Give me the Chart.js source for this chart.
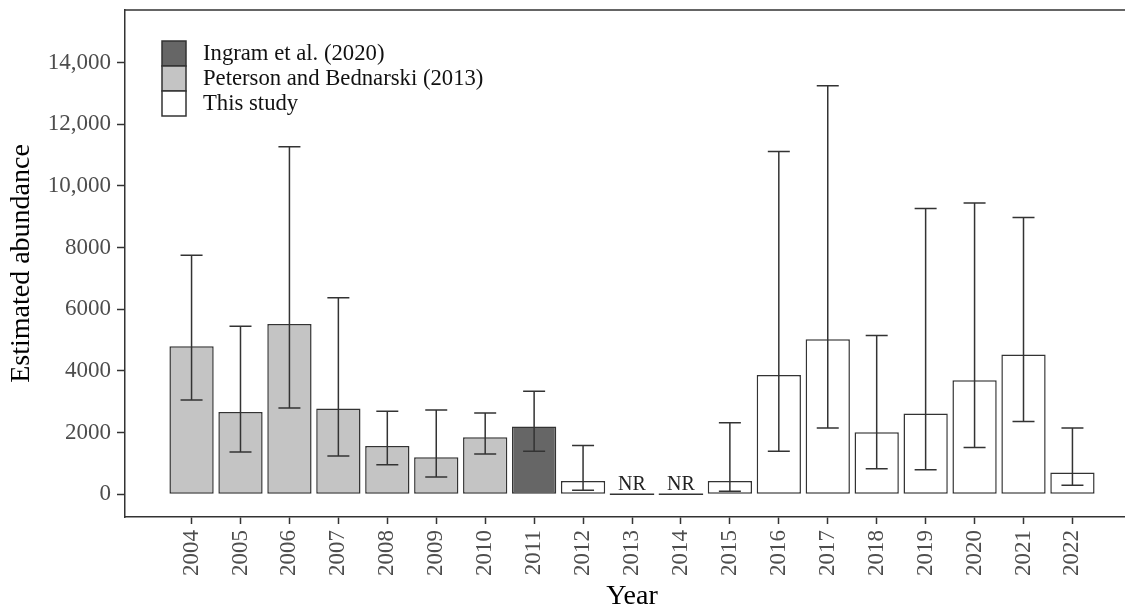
<!DOCTYPE html>
<html>
<head>
<meta charset="utf-8">
<title>Estimated abundance by year</title>
<script src="https://cdn.jsdelivr.net/npm/chart.js@4.4.1/dist/chart.umd.min.js"></script>
<style>
  html, body { margin: 0; padding: 0; background: #fff; overflow: hidden; }
  #wrap { width: 1145px; height: 608px; }
</style>
</head>
<body>
<div id="wrap"><canvas id="abundanceChart" width="1145" height="608"></canvas></div>
<script>
const years = [2004, 2005, 2006, 2007, 2008, 2009, 2010, 2011, 2012, 2013, 2014, 2015, 2016, 2017, 2018, 2019, 2020, 2021, 2022];
const source = ['peterson', 'peterson', 'peterson', 'peterson', 'peterson', 'peterson', 'peterson', 'ingram',
                'study', 'study', 'study', 'study', 'study', 'study', 'study', 'study', 'study', 'study', 'study'];
// null = not reported (NR)
const estimates = [4800, 2670, 5520, 2780, 1570, 1200, 1850, 2200, 430, null, null, 430, 3870, 5030, 2010, 2620, 3700, 4530, 710];
const lower = [3060, 1370, 2800, 1240, 960, 560, 1310, 1400, 130, null, null, 100, 1400, 2150, 830, 800, 1520, 2360, 290];
const upper = [7750, 5450, 11270, 6370, 2690, 2730, 2640, 3340, 1580, null, null, 2320, 11120, 13250, 5150, 9270, 9450, 8980, 2150];

const legendKeys = ['ingram', 'peterson', 'study'];
const legendLabels = ['Ingram et al. (2020)', 'Peterson and Bednarski (2013)', 'This study'];
const yTicks = [0, 2000, 4000, 6000, 8000, 10000, 12000, 14000];
const yTickLabels = ['0', '2000', '4000', '6000', '8000', '10,000', '12,000', '14,000'];

const fills = { ingram: '#666666', peterson: '#c4c4c4', study: '#ffffff' };
const ink = '#333333';
const serif = '"Liberation Serif", "DejaVu Serif", serif';

const errorBars = {
    id: 'errorBars',
    afterDatasetsDraw(chart) {
        const { ctx, scales: { x, y } } = chart;
        ctx.save();
        ctx.strokeStyle = ink;
        ctx.lineWidth = 1.5;
        years.forEach((yr, i) => {
            if (estimates[i] === null) return;
            const px = x.getPixelForValue(yr);
            const yHi = y.getPixelForValue(upper[i]);
            const yLo = y.getPixelForValue(lower[i]);
            ctx.beginPath();
            ctx.moveTo(px, yHi); ctx.lineTo(px, yLo);
            ctx.moveTo(px - 11, yHi); ctx.lineTo(px + 11, yHi);
            ctx.moveTo(px - 11, yLo); ctx.lineTo(px + 11, yLo);
            ctx.stroke();
        });
        ctx.restore();
    }
};

const notReported = {
    id: 'notReported',
    afterDatasetsDraw(chart) {
        const { ctx, scales: { x, y } } = chart;
        const half = chart.getDatasetMeta(0).data[0].width / 2;
        const y0 = y.getPixelForValue(0);
        ctx.save();
        ctx.strokeStyle = ink;
        ctx.lineWidth = 1.5;
        ctx.fillStyle = '#222';
        ctx.font = '20px ' + serif;
        ctx.textAlign = 'center';
        ctx.textBaseline = 'alphabetic';
        years.forEach((yr, i) => {
            if (estimates[i] !== null) return;
            const px = x.getPixelForValue(yr);
            ctx.beginPath();
            ctx.moveTo(px - half, y0); ctx.lineTo(px + half, y0);
            ctx.stroke();
            ctx.fillText('NR', px, y0 - 4);
        });
        ctx.restore();
    }
};

const panelAndLegend = {
    id: 'panelAndLegend',
    afterDraw(chart) {
        const { ctx, chartArea: a } = chart;
        ctx.save();
        ctx.strokeStyle = ink;
        ctx.lineWidth = 1.5;
        ctx.beginPath();
        ctx.moveTo(a.left, a.top); ctx.lineTo(a.right, a.top); ctx.lineTo(a.right, a.bottom);
        ctx.stroke();

        const bx = a.left + 37, by = a.top + 31, bw = 24, bh = 25;
        legendKeys.forEach((k, i) => {
            ctx.fillStyle = fills[k];
            ctx.fillRect(bx, by + i * bh, bw, bh);
            ctx.strokeRect(bx, by + i * bh, bw, bh);
        });
        ctx.fillStyle = '#111';
        ctx.font = '22.7px ' + serif;
        ctx.textBaseline = 'middle';
        legendLabels.forEach((t, i) => ctx.fillText(t, bx + 41, by + i * bh + bh / 2 + 1));
        ctx.restore();
    }
};

new Chart(document.getElementById('abundanceChart').getContext('2d'), {
    type: 'bar',
    data: {
        datasets: [{
            data: years.map((yr, i) => ({ x: yr, y: estimates[i] })),
            backgroundColor: source.map(s => fills[s]),
            borderColor: ink,
            borderWidth: 1.5,
            borderSkipped: false,
            categoryPercentage: 0.905,
            barPercentage: 1
        }]
    },
    options: {
        responsive: false,
        animation: false,
        layout: { padding: { top: 10, right: 6, left: 0, bottom: 0 } },
        plugins: { legend: { display: false }, tooltip: { enabled: false } },
        scales: {
            x: {
                type: 'linear',
                offset: false,
                min: 2002.64,
                max: 2023.36,
                afterBuildTicks: axis => { axis.ticks = years.map(v => ({ value: v })); },
                afterFit: axis => { axis.height = 91; axis.paddingLeft = 0; axis.paddingRight = 0; },
                grid: { offset: false, drawOnChartArea: false, tickLength: 7, tickColor: ink, tickWidth: 1.5 },
                border: { color: ink, width: 1.5 },
                ticks: {
                    minRotation: 90, maxRotation: 90, autoSkip: false, padding: 6,
                    color: '#4d4d4d', font: { family: serif, size: 23 },
                    callback: v => String(v)
                },
                title: {
                    display: true, text: 'Year', color: '#000',
                    font: { family: serif, size: 28, lineHeight: 1 }, padding: { top: 0, bottom: -3 }
                }
            },
            y: {
                min: -736,
                max: 15705,
                afterBuildTicks: axis => { axis.ticks = yTicks.map(v => ({ value: v })); },
                afterFit: axis => { axis.width = 125; axis.paddingTop = 0; axis.paddingBottom = 0; },
                grid: { drawOnChartArea: false, tickLength: 8, tickColor: ink, tickWidth: 1.5 },
                border: { color: ink, width: 1.5 },
                ticks: {
                    padding: 6, color: '#4d4d4d', font: { family: serif, size: 23 },
                    callback: v => yTickLabels[yTicks.indexOf(v)]
                },
                title: {
                    display: true, text: 'Estimated abundance', color: '#000',
                    font: { family: serif, size: 28, lineHeight: 1 }, padding: { top: 8, bottom: 0 }
                }
            }
        }
    },
    plugins: [errorBars, notReported, panelAndLegend]
});
</script>
</body>
</html>
